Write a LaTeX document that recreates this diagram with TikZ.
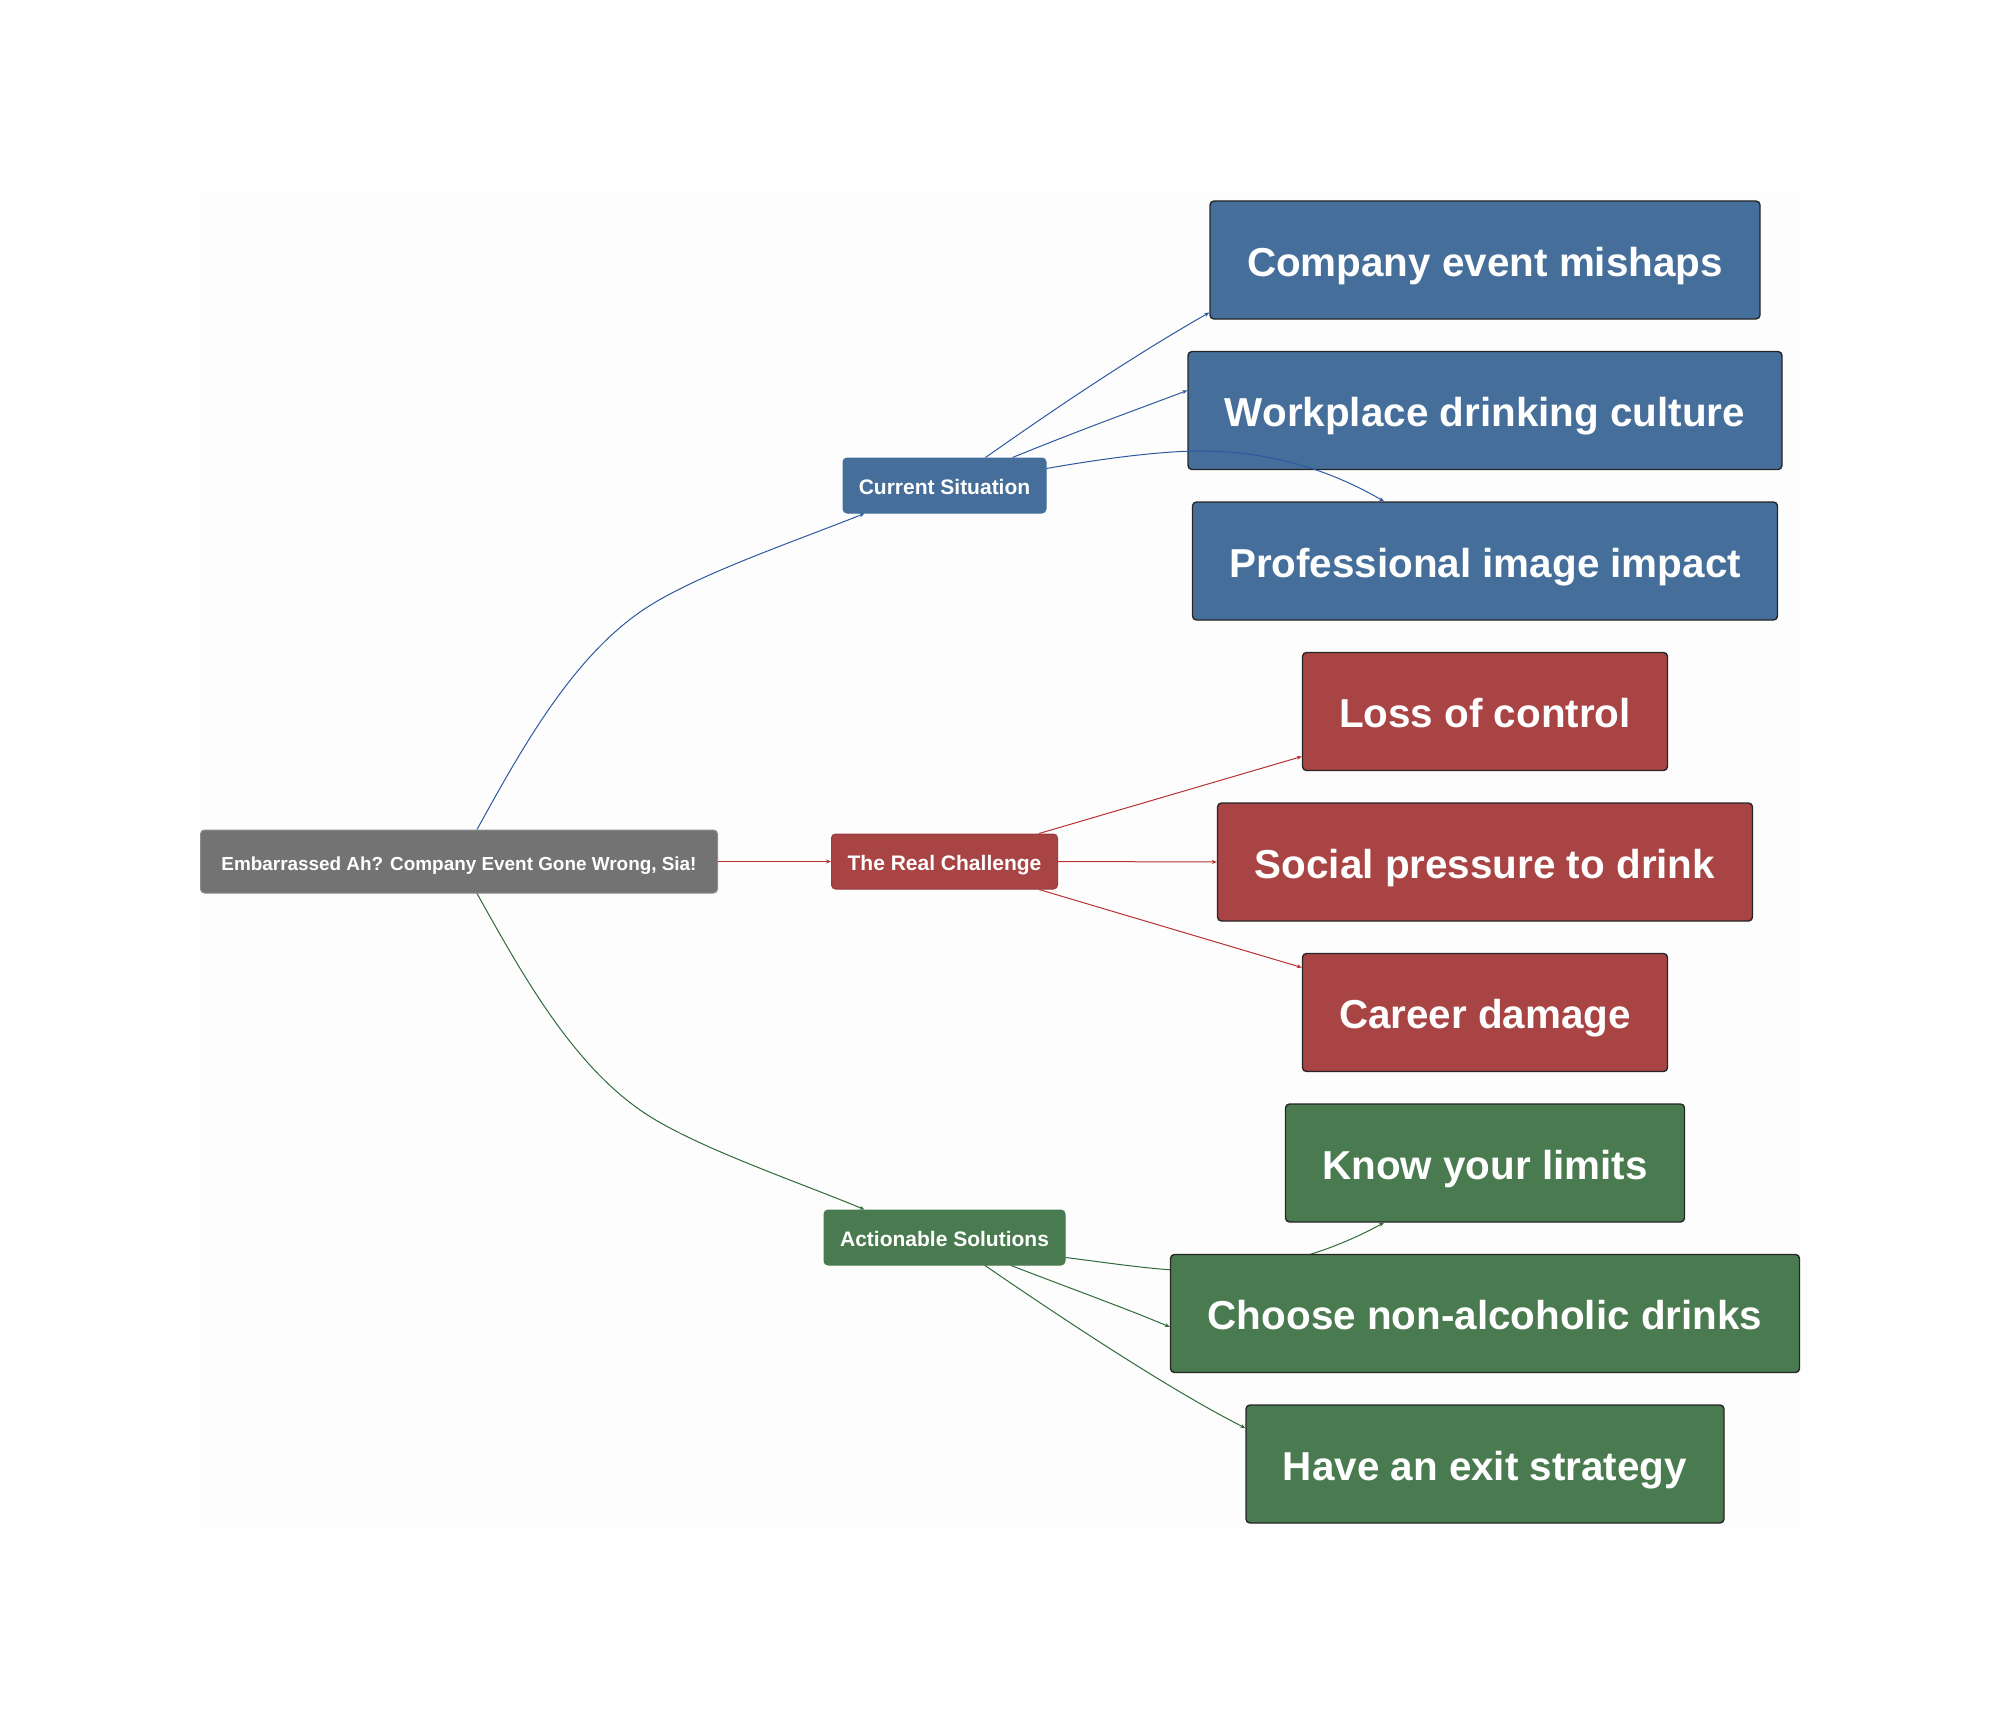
\documentclass[tikz,border=0pt]{standalone}
\usepackage{fontspec}
\setmainfont{Liberation Sans}
\usetikzlibrary{arrows.meta}
\definecolor{cblue}{HTML}{456F9A}
\definecolor{cred}{HTML}{A94444}
\definecolor{cgreen}{HTML}{4A7A4F}
\definecolor{cgray}{HTML}{737373}
\definecolor{lblue}{HTML}{2C5AA0}
\definecolor{lred}{HTML}{B83232}
\definecolor{lgreen}{HTML}{2F6B3A}
\definecolor{pagebg}{HTML}{FEFEFE}
\definecolor{panelbg}{HTML}{FDFDFD}
\pgfdeclarelayer{under}
\pgfsetlayers{under,main}
\tikzset{
  x=1pt,y=-1pt,
  base/.style={rectangle,rounded corners=4pt,inner sep=0pt,text=white,font=\bfseries,anchor=center},
  leaf/.style={base,draw=black!85,line width=1.4pt,minimum height=118pt,text height=36.3pt,text depth=3.7pt,font=\fontsize{40.4}{48}\selectfont\bfseries},
  mid/.style={base,line width=1pt,minimum height=55pt,text height=18.5pt,text depth=1.5pt,font=\fontsize{21}{24}\selectfont\bfseries},
  rootbox/.style={base,fill=cgray,draw=gray!90,line width=1pt,minimum width=517pt,minimum height=63pt,text height=17.9pt,text depth=0.9pt,font=\fontsize{18.9}{22}\selectfont\bfseries},
  link/.style={-{Stealth[length=5pt,width=4pt]},line width=1pt},
}
\begin{document}
\begin{tikzpicture}
\useasboundingbox (0,0) rectangle (2000,1723);
\begin{pgfonlayer}{under}
\fill[pagebg] (0,0) rectangle (2000,1723);
\fill[panelbg] (200,198) rectangle (1800,1525);
\end{pgfonlayer}
\node[rootbox] (root) at (459,861.5) {Embarrassed Ah? Company Event Gone Wrong, Sia!};
\node[mid,fill=cblue,draw=cblue,minimum width=203pt] (cs) at (944.5,485.5) {Current Situation};
\node[mid,fill=cred,draw=cred!90!black,minimum width=226pt] (rc) at (944.5,861.5) {The Real Challenge};
\node[mid,fill=cgreen,draw=cgreen,minimum width=241pt] (as) at (944.5,1237.5) {Actionable Solutions};
\node[leaf,fill=cblue,minimum width=550pt] (l1) at (1485,260) {Company event mishaps};
\node[leaf,fill=cblue,minimum width=594pt] (l2) at (1485,410.5) {Workplace drinking culture};
\node[leaf,fill=cblue,minimum width=585pt] (l3) at (1485,561) {Professional image impact};
\node[leaf,fill=cred,minimum width=365pt] (l4) at (1485,711.5) {Loss of control};
\node[leaf,fill=cred,minimum width=535pt] (l5) at (1485,862) {Social pressure to drink};
\node[leaf,fill=cred,minimum width=365pt] (l6) at (1485,1012.5) {Career damage};
\node[leaf,fill=cgreen,minimum width=399pt] (l7) at (1485,1163) {Know your limits};
\node[leaf,fill=cgreen,minimum width=629pt] (l8) at (1485,1313.5) {Choose non-alcoholic drinks};
\node[leaf,fill=cgreen,minimum width=478pt] (l9) at (1485,1464) {Have an exit strategy};
% root edges
\draw[link,lblue] ([xshift=18pt]root.north) .. controls (522,748) and (572,658) .. (643,610) .. controls (693,576) and (793,542) .. ([xshift=-80pt]cs.south);
\draw[link,lred] (root.east) -- (rc.west);
\draw[link,lgreen] ([xshift=18pt]root.south) .. controls (522,974) and (572,1064) .. (643,1112) .. controls (693,1146) and (793,1180) .. ([xshift=-80pt]as.north);
% blue
\draw[link,lblue] ([xshift=41pt]cs.north) .. controls (1060,405) and (1135,355) .. ([yshift=-52.5pt]l1.west);
\draw[link,lblue] ([xshift=68pt]cs.north) .. controls (1080,430) and (1130,412) .. ([yshift=20pt]l2.west);
\draw[link,lblue] ([yshift=17pt]cs.east) .. controls (1100,459) and (1160,451) .. (1200,451) .. controls (1270,451) and (1330,470) .. ([xshift=-101pt]l3.north);
% red
\draw[link,lred] ([xshift=94.5pt]rc.north) -- ([yshift=-45pt]l4.west);
\draw[link,lred] (rc.east) -- (l5.west);
\draw[link,lred] ([xshift=94.5pt]rc.south) -- ([yshift=45pt]l6.west);
% green
\begin{pgfonlayer}{under}
\draw[link,lgreen] ([yshift=-20pt]as.east) .. controls (1110,1263) and (1160,1271) .. (1200,1271) .. controls (1270,1271) and (1330,1252) .. ([xshift=-101pt]l7.south);
\end{pgfonlayer}
\draw[link,lgreen] ([xshift=66.5pt]as.south) .. controls (1080,1292) and (1130,1310) .. ([yshift=-13.5pt]l8.west);
\draw[link,lgreen] ([xshift=40.5pt]as.south) .. controls (1060,1317) and (1170,1390) .. ([yshift=36pt]l9.west);
\end{tikzpicture}
\end{document}
